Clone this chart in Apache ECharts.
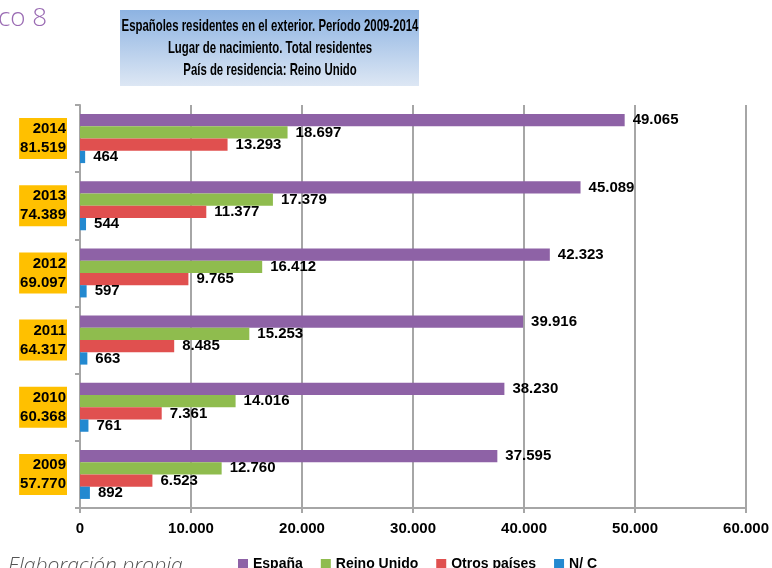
<!DOCTYPE html>
<html>
<head>
<meta charset="utf-8">
<script src="https://cdn.jsdelivr.net/npm/echarts@6/dist/echarts.min.js"></script>
<style>
  html, body { margin: 0; padding: 0; background: #fff; }
  #chart { width: 772px; height: 568px; }
</style>
</head>
<body>
<div id="chart"></div>
<script>
// datos
const years = ['2014', '2013', '2012', '2011', '2010', '2009'];
const totals = [81519, 74389, 69097, 64317, 60368, 57770];
const espana = [49065, 45089, 42323, 39916, 38230, 37595];
const reinoUnido = [18697, 17379, 16412, 15253, 14016, 12760];
const otrosPaises = [13293, 11377, 9765, 8485, 7361, 6523];
const noConsta = [464, 544, 597, 663, 761, 892];
const seriesNames = ['España', 'Reino Unido', 'Otros países', 'N/ C'];
const colors = ['#8E62A6', '#8FBC4E', '#E0504F', '#2389D0'];

const fmt = v => String(v).replace(/\B(?=(\d{3})+(?!\d))/g, '.');

const chart = echarts.init(document.getElementById('chart'));

const makeSeries = (name, data, color) => ({
  name,
  type: 'bar',
  data,
  barGap: '0%',
  barCategoryGap: '27%',
  itemStyle: { color },
  label: {
    show: true,
    position: 'right',
    distance: 8,
    color: '#000',
    fontFamily: '"Liberation Sans", Arial',
    fontWeight: 'bold',
    fontSize: 15,
    formatter: p => fmt(p.value)
  }
});

const option = {
  animation: false,
  color: colors,
  grid: { left: 80, right: 24, top: 105, bottom: 60, containLabel: false },
  graphic: [
    {
      type: 'rect',
      left: 120, top: 10,
      shape: { width: 299, height: 76 },
      style: {
        fill: new echarts.graphic.LinearGradient(0, 0, 0, 1, [
          { offset: 0, color: '#8DB3E2' },
          { offset: 1, color: '#DDE7F4' }
        ])
      }
    },
    {
      type: 'text',
      x: 270,
      y: 15,
      scaleX: 0.67,
      style: {
        text: 'Españoles residentes en el exterior. Período 2009-2014\nLugar de nacimiento. Total residentes\nPaís de residencia: Reino Unido',
        align: 'center',
        font: 'bold 17px "Liberation Sans", Arial',
        lineHeight: 22,
        fill: '#000'
      }
    },
    {
      type: 'text',
      left: -2, top: 6,
      style: {
        text: 'co 8',
        font: '300 26px "Open Sans", "Noto Sans", sans-serif',
        fill: '#9A6BB3'
      }
    },
    {
      type: 'text',
      left: 8, top: 556,
      style: {
        text: 'Elaboración propia',
        font: 'italic 300 21px "Open Sans", "Noto Sans", sans-serif',
        fill: '#555'
      }
    }
  ],
  legend: {
    data: seriesNames,
    left: 233,
    top: 552,
    icon: 'rect',
    itemWidth: 10,
    itemHeight: 10,
    itemGap: 18,
    itemStyle: { borderWidth: 0 },
    textStyle: {
      fontFamily: '"Liberation Sans", Arial',
      fontWeight: 'bold',
      fontSize: 14,
      color: '#000'
    }
  },
  xAxis: {
    type: 'value',
    min: 0,
    max: 60000,
    interval: 10000,
    axisLine: { show: true, lineStyle: { color: '#A6A6A6', width: 2 } },
    axisTick: { show: true, length: 5, lineStyle: { color: '#A6A6A6', width: 2 } },
    splitLine: { show: true, lineStyle: { color: '#A6A6A6', width: 2 } },
    axisLabel: {
      margin: 13,
      color: '#000',
      fontFamily: '"Liberation Sans", Arial',
      fontWeight: 'bold',
      fontSize: 15,
      formatter: v => fmt(v)
    }
  },
  yAxis: {
    type: 'category',
    inverse: true,
    data: years,
    axisLine: { show: true, lineStyle: { color: '#A6A6A6', width: 2 } },
    axisTick: { show: true, length: 5, lineStyle: { color: '#A6A6A6', width: 2 } },
    axisLabel: {
      margin: 13,
      color: '#000',
      fontFamily: '"Liberation Sans", Arial',
      fontWeight: 'bold',
      fontSize: 15,
      lineHeight: 19,
      backgroundColor: '#FFC000',
      padding: [2, 1, 1, 1],
      formatter: (v, i) => v + '\n' + fmt(totals[i])
    }
  },
  series: [
    makeSeries(seriesNames[0], espana, colors[0]),
    makeSeries(seriesNames[1], reinoUnido, colors[1]),
    makeSeries(seriesNames[2], otrosPaises, colors[2]),
    makeSeries(seriesNames[3], noConsta, colors[3])
  ]
};

chart.setOption(option);
</script>
</body>
</html>
